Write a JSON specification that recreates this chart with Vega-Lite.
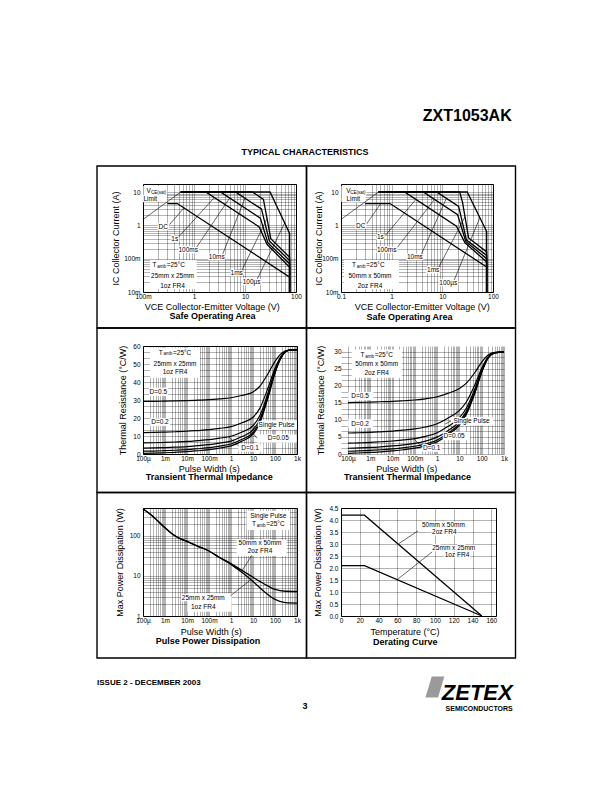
{
"$schema": "https://vega.github.io/schema/vega-lite/v6.json",
"autosize": {"type": "none"},
"padding": {"left": 143, "top": 184, "right": 469, "bottom": 608},
"background": "white",
"config": {
  "font": "Liberation Sans",
  "view": {"stroke": "#000", "strokeWidth": 1},
  "axis": {"labelFont": "Liberation Sans", "labelFontSize": 6.5, "labelColor": "#000", "labelOverlap": false, "labelFlush": false, "titleFont": "Liberation Sans", "titleFontSize": 9, "titleFontWeight": "normal", "titleColor": "#000", "domain": false, "ticks": false, "tickSize": 0, "gridColor": "#000", "gridOpacity": 0.6, "gridWidth": 0.5},
  "axisX": {"labelPadding": 1},
  "axisY": {"labelPadding": 3},
  "text": {"font": "Liberation Sans", "color": "#000"},
  "line": {"color": "#000"},
  "rule": {"color": "#000"}
},
"datasets": {
  "header": [{"role": "part number", "text": "ZXT1053AK"}, {"role": "section", "text": "TYPICAL CHARACTERISTICS"}],
  "footer": [{"role": "issue", "text": "ISSUE 2 - DECEMBER 2003"}, {"role": "page", "text": "3"}, {"role": "logo mark", "text": ""}, {"role": "logo", "text": "ZETEX"}, {"role": "tagline", "text": "SEMICONDUCTORS"}],
  "p1_curves": [
    {"curve": "DC", "n": 1, "vce": 0.3, "ic": 4.5}, {"curve": "DC", "n": 2, "vce": 0.47, "ic": 4.5}, {"curve": "DC", "n": 3, "vce": 75, "ic": 0.028}, {"curve": "DC", "n": 4, "vce": 75, "ic": 0.01},
    {"curve": "1s", "n": 1, "vce": 0.55, "ic": 10}, {"curve": "1s", "n": 2, "vce": 1.7, "ic": 10}, {"curve": "1s", "n": 3, "vce": 19, "ic": 0.9}, {"curve": "1s", "n": 4, "vce": 27, "ic": 0.27}, {"curve": "1s", "n": 5, "vce": 75, "ic": 0.055}, {"curve": "1s", "n": 6, "vce": 75, "ic": 0.01},
    {"curve": "100ms", "n": 1, "vce": 0.55, "ic": 10}, {"curve": "100ms", "n": 2, "vce": 3.3, "ic": 10}, {"curve": "100ms", "n": 3, "vce": 20, "ic": 1.65}, {"curve": "100ms", "n": 4, "vce": 28, "ic": 0.3}, {"curve": "100ms", "n": 5, "vce": 75, "ic": 0.07}, {"curve": "100ms", "n": 6, "vce": 75, "ic": 0.01},
    {"curve": "10ms", "n": 1, "vce": 0.55, "ic": 10}, {"curve": "10ms", "n": 2, "vce": 6.5, "ic": 10}, {"curve": "10ms", "n": 3, "vce": 21, "ic": 3.1}, {"curve": "10ms", "n": 4, "vce": 30, "ic": 0.34}, {"curve": "10ms", "n": 5, "vce": 75, "ic": 0.088}, {"curve": "10ms", "n": 6, "vce": 75, "ic": 0.01},
    {"curve": "1ms", "n": 1, "vce": 0.55, "ic": 10}, {"curve": "1ms", "n": 2, "vce": 14, "ic": 10}, {"curve": "1ms", "n": 3, "vce": 23, "ic": 6}, {"curve": "1ms", "n": 4, "vce": 32, "ic": 0.4}, {"curve": "1ms", "n": 5, "vce": 75, "ic": 0.11}, {"curve": "1ms", "n": 6, "vce": 75, "ic": 0.01},
    {"curve": "100µs", "n": 1, "vce": 0.55, "ic": 10}, {"curve": "100µs", "n": 2, "vce": 31, "ic": 10}, {"curve": "100µs", "n": 3, "vce": 75, "ic": 0.57}, {"curve": "100µs", "n": 4, "vce": 75, "ic": 0.01},
    {"curve": "VCE(sat) limit", "n": 1, "vce": 0.1, "ic": 1.5}, {"curve": "VCE(sat) limit", "n": 2, "vce": 0.55, "ic": 10}
  ],
  "p1_leaders": [
    {"curve": "DC", "vce": 0.33, "ic": 1.05, "vce2": 0.65, "ic2": 3.46},
    {"curve": "1s", "vce": 0.5, "ic": 0.45, "vce2": 2.5, "ic2": 6.8},
    {"curve": "100ms", "vce": 1.1, "ic": 0.21, "vce2": 5, "ic2": 6.6},
    {"curve": "10ms", "vce": 3.6, "ic": 0.13, "vce2": 10, "ic2": 6.5},
    {"curve": "1ms", "vce": 8.5, "ic": 0.042, "vce2": 27, "ic2": 1.6},
    {"curve": "100µs", "vce": 17, "ic": 0.023, "vce2": 60, "ic2": 1.18}
  ],
  "p1_boxes": [
    {"note": "VCE(sat) limit", "vce": 0.1014, "vce2": 0.2955, "ic": 5.0, "ic2": 15.1},
    {"note": "conditions", "vce": 0.137, "vce2": 1.13, "ic": 0.0122, "ic2": 0.0908}
  ],
  "p1_labels": [
    {"label": "V", "kind": "main", "vce": 0.1294, "ic": 10.94},
    {"label": "CE(sat)", "kind": "sub", "vce": 0.2014, "ic": 9.66},
    {"label": "Limit", "kind": "main", "vce": 0.139, "ic": 6.38},
    {"label": "DC", "kind": "main", "vce": 0.25, "ic": 0.91},
    {"label": "1s", "kind": "main", "vce": 0.42, "ic": 0.38},
    {"label": "100ms", "kind": "main", "vce": 0.77, "ic": 0.18},
    {"label": "10ms", "kind": "main", "vce": 2.79, "ic": 0.114},
    {"label": "1ms", "kind": "main", "vce": 6.87, "ic": 0.036},
    {"label": "100µs", "kind": "main", "vce": 13.5, "ic": 0.0194},
    {"label": "T", "kind": "main", "vce": 0.1677, "ic": 0.0629},
    {"label": "amb", "kind": "sub", "vce": 0.2316, "ic": 0.0567},
    {"label": "=25°C", "kind": "main", "vce": 0.4406, "ic": 0.0629},
    {"label": "25mm x 25mm", "kind": "main", "vce": 0.379, "ic": 0.0294},
    {"label": "1oz FR4", "kind": "main", "vce": 0.379, "ic": 0.01473}
  ],
  "p2_curves": [
    {"curve": "DC", "n": 1, "vce": 0.3, "ic": 4.5}, {"curve": "DC", "n": 2, "vce": 0.93, "ic": 4.5}, {"curve": "DC", "n": 3, "vce": 75, "ic": 0.056}, {"curve": "DC", "n": 4, "vce": 75, "ic": 0.01},
    {"curve": "1s", "n": 1, "vce": 0.55, "ic": 10}, {"curve": "1s", "n": 2, "vce": 1.8, "ic": 10}, {"curve": "1s", "n": 3, "vce": 19, "ic": 0.95}, {"curve": "1s", "n": 4, "vce": 28, "ic": 0.3}, {"curve": "1s", "n": 5, "vce": 75, "ic": 0.08}, {"curve": "1s", "n": 6, "vce": 75, "ic": 0.01},
    {"curve": "100ms", "n": 1, "vce": 0.55, "ic": 10}, {"curve": "100ms", "n": 2, "vce": 4.2, "ic": 10}, {"curve": "100ms", "n": 3, "vce": 20, "ic": 2.1}, {"curve": "100ms", "n": 4, "vce": 29, "ic": 0.33}, {"curve": "100ms", "n": 5, "vce": 75, "ic": 0.1}, {"curve": "100ms", "n": 6, "vce": 75, "ic": 0.01},
    {"curve": "10ms", "n": 1, "vce": 0.55, "ic": 10}, {"curve": "10ms", "n": 2, "vce": 7.7, "ic": 10}, {"curve": "10ms", "n": 3, "vce": 21, "ic": 3.7}, {"curve": "10ms", "n": 4, "vce": 30, "ic": 0.36}, {"curve": "10ms", "n": 5, "vce": 75, "ic": 0.125}, {"curve": "10ms", "n": 6, "vce": 75, "ic": 0.01},
    {"curve": "1ms", "n": 1, "vce": 0.55, "ic": 10}, {"curve": "1ms", "n": 2, "vce": 22, "ic": 10}, {"curve": "1ms", "n": 3, "vce": 25, "ic": 5}, {"curve": "1ms", "n": 4, "vce": 33, "ic": 0.42}, {"curve": "1ms", "n": 5, "vce": 75, "ic": 0.16}, {"curve": "1ms", "n": 6, "vce": 75, "ic": 0.01},
    {"curve": "100µs", "n": 1, "vce": 0.55, "ic": 10}, {"curve": "100µs", "n": 2, "vce": 31, "ic": 10}, {"curve": "100µs", "n": 3, "vce": 75, "ic": 0.65}, {"curve": "100µs", "n": 4, "vce": 75, "ic": 0.01},
    {"curve": "VCE(sat) limit", "n": 1, "vce": 0.1, "ic": 1.5}, {"curve": "VCE(sat) limit", "n": 2, "vce": 0.55, "ic": 10}
  ],
  "p2_leaders": [
    {"curve": "DC", "vce": 0.32, "ic": 1.1, "vce2": 0.6, "ic2": 4.4},
    {"curve": "1s", "vce": 0.75, "ic": 0.5, "vce2": 3, "ic2": 6},
    {"curve": "100ms", "vce": 1.3, "ic": 0.22, "vce2": 7, "ic2": 6},
    {"curve": "10ms", "vce": 3.8, "ic": 0.13, "vce2": 12, "ic2": 6.4},
    {"curve": "1ms", "vce": 8.5, "ic": 0.055, "vce2": 28, "ic2": 1.8},
    {"curve": "100µs", "vce": 17, "ic": 0.022, "vce2": 55, "ic2": 1.7}
  ],
  "p2_boxes": [
    {"note": "VCE(sat) limit", "vce": 0.1015, "vce2": 0.311, "ic": 5.0, "ic2": 15.1},
    {"note": "conditions", "vce": 0.1146, "vce2": 1.393, "ic": 0.0122, "ic2": 0.0908}
  ],
  "p2_labels": [
    {"label": "V", "kind": "main", "vce": 0.1406, "ic": 10.7},
    {"label": "CE(sat)", "kind": "sub", "vce": 0.2164, "ic": 9.33},
    {"label": "Limit", "kind": "main", "vce": 0.1748, "ic": 6.29},
    {"label": "DC", "kind": "main", "vce": 0.245, "ic": 0.93},
    {"label": "1s", "kind": "main", "vce": 0.6, "ic": 0.44},
    {"label": "100ms", "kind": "main", "vce": 0.8, "ic": 0.185},
    {"label": "10ms", "kind": "main", "vce": 2.87, "ic": 0.114},
    {"label": "1ms", "kind": "main", "vce": 6.6, "ic": 0.046},
    {"label": "100µs", "kind": "main", "vce": 13.1, "ic": 0.019},
    {"label": "T", "kind": "main", "vce": 0.1809, "ic": 0.0629},
    {"label": "amb", "kind": "sub", "vce": 0.2503, "ic": 0.0567},
    {"label": "=25°C", "kind": "main", "vce": 0.478, "ic": 0.0629},
    {"label": "50mm x 50mm", "kind": "main", "vce": 0.373, "ic": 0.0294},
    {"label": "2oz FR4", "kind": "main", "vce": 0.373, "ic": 0.01473}
  ],
  "p3_curves": [
    {"curve": "Single Pulse", "t": 0.0001, "zth": 0.4}, {"curve": "Single Pulse", "t": 0.0003, "zth": 0.5}, {"curve": "Single Pulse", "t": 0.001, "zth": 0.7}, {"curve": "Single Pulse", "t": 0.003, "zth": 0.95}, {"curve": "Single Pulse", "t": 0.01, "zth": 1.3}, {"curve": "Single Pulse", "t": 0.03, "zth": 1.8}, {"curve": "Single Pulse", "t": 0.1, "zth": 2.4}, {"curve": "Single Pulse", "t": 0.3, "zth": 3.3}, {"curve": "Single Pulse", "t": 1, "zth": 4.5}, {"curve": "Single Pulse", "t": 3, "zth": 7}, {"curve": "Single Pulse", "t": 10, "zth": 11}, {"curve": "Single Pulse", "t": 20, "zth": 17}, {"curve": "Single Pulse", "t": 50, "zth": 32}, {"curve": "Single Pulse", "t": 100, "zth": 45}, {"curve": "Single Pulse", "t": 200, "zth": 54}, {"curve": "Single Pulse", "t": 400, "zth": 57.5}, {"curve": "Single Pulse", "t": 1000, "zth": 58},
    {"curve": "D=0.02", "t": 0.0001, "zth": 1.55}, {"curve": "D=0.02", "t": 0.0003, "zth": 1.65}, {"curve": "D=0.02", "t": 0.001, "zth": 1.85}, {"curve": "D=0.02", "t": 0.003, "zth": 2.09}, {"curve": "D=0.02", "t": 0.01, "zth": 2.43}, {"curve": "D=0.02", "t": 0.03, "zth": 2.92}, {"curve": "D=0.02", "t": 0.1, "zth": 3.51}, {"curve": "D=0.02", "t": 0.3, "zth": 4.39}, {"curve": "D=0.02", "t": 1, "zth": 5.57}, {"curve": "D=0.02", "t": 3, "zth": 8.02}, {"curve": "D=0.02", "t": 10, "zth": 11.94}, {"curve": "D=0.02", "t": 20, "zth": 17.82}, {"curve": "D=0.02", "t": 50, "zth": 32.52}, {"curve": "D=0.02", "t": 100, "zth": 45.26}, {"curve": "D=0.02", "t": 200, "zth": 54.08}, {"curve": "D=0.02", "t": 400, "zth": 57.51}, {"curve": "D=0.02", "t": 1000, "zth": 58},
    {"curve": "D=0.05", "t": 0.0001, "zth": 3.28}, {"curve": "D=0.05", "t": 0.0003, "zth": 3.38}, {"curve": "D=0.05", "t": 0.001, "zth": 3.57}, {"curve": "D=0.05", "t": 0.003, "zth": 3.8}, {"curve": "D=0.05", "t": 0.01, "zth": 4.14}, {"curve": "D=0.05", "t": 0.03, "zth": 4.61}, {"curve": "D=0.05", "t": 0.1, "zth": 5.18}, {"curve": "D=0.05", "t": 0.3, "zth": 6.04}, {"curve": "D=0.05", "t": 1, "zth": 7.18}, {"curve": "D=0.05", "t": 3, "zth": 9.55}, {"curve": "D=0.05", "t": 10, "zth": 13.35}, {"curve": "D=0.05", "t": 20, "zth": 19.05}, {"curve": "D=0.05", "t": 50, "zth": 33.3}, {"curve": "D=0.05", "t": 100, "zth": 45.65}, {"curve": "D=0.05", "t": 200, "zth": 54.2}, {"curve": "D=0.05", "t": 400, "zth": 57.5}, {"curve": "D=0.05", "t": 1000, "zth": 58},
    {"curve": "D=0.1", "t": 0.0001, "zth": 6.16}, {"curve": "D=0.1", "t": 0.0003, "zth": 6.25}, {"curve": "D=0.1", "t": 0.001, "zth": 6.43}, {"curve": "D=0.1", "t": 0.003, "zth": 6.66}, {"curve": "D=0.1", "t": 0.01, "zth": 6.97}, {"curve": "D=0.1", "t": 0.03, "zth": 7.42}, {"curve": "D=0.1", "t": 0.1, "zth": 7.96}, {"curve": "D=0.1", "t": 0.3, "zth": 8.77}, {"curve": "D=0.1", "t": 1, "zth": 9.85}, {"curve": "D=0.1", "t": 3, "zth": 12.1}, {"curve": "D=0.1", "t": 10, "zth": 15.7}, {"curve": "D=0.1", "t": 20, "zth": 21.1}, {"curve": "D=0.1", "t": 50, "zth": 34.6}, {"curve": "D=0.1", "t": 100, "zth": 46.3}, {"curve": "D=0.1", "t": 200, "zth": 54.4}, {"curve": "D=0.1", "t": 400, "zth": 57.55}, {"curve": "D=0.1", "t": 1000, "zth": 58},
    {"curve": "D=0.2", "t": 0.0001, "zth": 11.92}, {"curve": "D=0.2", "t": 0.0003, "zth": 12.0}, {"curve": "D=0.2", "t": 0.001, "zth": 12.16}, {"curve": "D=0.2", "t": 0.003, "zth": 12.36}, {"curve": "D=0.2", "t": 0.01, "zth": 12.64}, {"curve": "D=0.2", "t": 0.03, "zth": 13.04}, {"curve": "D=0.2", "t": 0.1, "zth": 13.52}, {"curve": "D=0.2", "t": 0.3, "zth": 14.24}, {"curve": "D=0.2", "t": 1, "zth": 15.2}, {"curve": "D=0.2", "t": 3, "zth": 17.2}, {"curve": "D=0.2", "t": 10, "zth": 20.4}, {"curve": "D=0.2", "t": 20, "zth": 25.2}, {"curve": "D=0.2", "t": 50, "zth": 37.2}, {"curve": "D=0.2", "t": 100, "zth": 47.6}, {"curve": "D=0.2", "t": 200, "zth": 54.8}, {"curve": "D=0.2", "t": 400, "zth": 57.6}, {"curve": "D=0.2", "t": 1000, "zth": 58},
    {"curve": "D=0.5", "t": 0.0001, "zth": 29.2}, {"curve": "D=0.5", "t": 0.0003, "zth": 29.25}, {"curve": "D=0.5", "t": 0.001, "zth": 29.35}, {"curve": "D=0.5", "t": 0.003, "zth": 29.48}, {"curve": "D=0.5", "t": 0.01, "zth": 29.65}, {"curve": "D=0.5", "t": 0.03, "zth": 29.9}, {"curve": "D=0.5", "t": 0.1, "zth": 30.2}, {"curve": "D=0.5", "t": 0.3, "zth": 30.65}, {"curve": "D=0.5", "t": 1, "zth": 31.25}, {"curve": "D=0.5", "t": 3, "zth": 32.5}, {"curve": "D=0.5", "t": 10, "zth": 34.5}, {"curve": "D=0.5", "t": 20, "zth": 37.5}, {"curve": "D=0.5", "t": 50, "zth": 45}, {"curve": "D=0.5", "t": 100, "zth": 51.5}, {"curve": "D=0.5", "t": 200, "zth": 56}, {"curve": "D=0.5", "t": 400, "zth": 57.75}, {"curve": "D=0.5", "t": 1000, "zth": 58}
  ],
  "p3_boxes": [
    {"note": "conditions", "t": 0.000208, "t2": 0.039, "zth": 42.4, "zth2": 59},
    {"note": "D=0.5", "t": 0.000208, "t2": 0.00141, "zth": 32.2, "zth2": 36.8},
    {"note": "D=0.2", "t": 0.000208, "t2": 0.00168, "zth": 15.6, "zth2": 19.8},
    {"note": "Single Pulse", "t": 12.3, "t2": 990, "zth": 13.5, "zth2": 18.7},
    {"note": "D=0.05", "t": 14.7, "t2": 968, "zth": 6.3, "zth2": 10.9},
    {"note": "D=0.1", "t": 2.13, "t2": 29.4, "zth": 1.3, "zth2": 5.4}
  ],
  "p3_leaders": [
    {"curve": "Single Pulse", "t": 12, "zth": 15.5, "t2": 6, "zth2": 9},
    {"curve": "D=0.05", "t": 15, "zth": 8.8, "t2": 8.5, "zth2": 12.6},
    {"curve": "D=0.1", "t": 2.2, "zth": 4.5, "t2": 0.8, "zth2": 9.4}
  ],
  "p3_labels": [
    {"label": "T", "kind": "main", "t": 0.000641, "zth": 56.3},
    {"label": "amb", "kind": "sub", "t": 0.001355, "zth": 55.4},
    {"label": "=25°C", "kind": "main", "t": 0.00602, "zth": 56.3},
    {"label": "25mm x 25mm", "kind": "main", "t": 0.00285, "zth": 50.2},
    {"label": "1oz FR4", "kind": "main", "t": 0.00285, "zth": 45.6},
    {"label": "D=0.5", "kind": "main", "t": 0.000496, "zth": 34.4},
    {"label": "D=0.2", "kind": "main", "t": 0.00059, "zth": 17.8},
    {"label": "Single Pulse", "kind": "main", "t": 119, "zth": 16.1},
    {"label": "D=0.05", "kind": "main", "t": 141, "zth": 8.7},
    {"label": "D=0.1", "kind": "main", "t": 7.3, "zth": 3.2}
  ],
  "p4_curves": [
    {"curve": "Single Pulse", "t": 0.0001, "zth": 0.2}, {"curve": "Single Pulse", "t": 0.0003, "zth": 0.3}, {"curve": "Single Pulse", "t": 0.001, "zth": 0.45}, {"curve": "Single Pulse", "t": 0.003, "zth": 0.65}, {"curve": "Single Pulse", "t": 0.01, "zth": 0.9}, {"curve": "Single Pulse", "t": 0.03, "zth": 1.25}, {"curve": "Single Pulse", "t": 0.1, "zth": 1.7}, {"curve": "Single Pulse", "t": 0.3, "zth": 2.4}, {"curve": "Single Pulse", "t": 1, "zth": 3.6}, {"curve": "Single Pulse", "t": 3, "zth": 5.6}, {"curve": "Single Pulse", "t": 10, "zth": 8.5}, {"curve": "Single Pulse", "t": 20, "zth": 11.5}, {"curve": "Single Pulse", "t": 50, "zth": 18}, {"curve": "Single Pulse", "t": 100, "zth": 24}, {"curve": "Single Pulse", "t": 200, "zth": 28.3}, {"curve": "Single Pulse", "t": 400, "zth": 29.7}, {"curve": "Single Pulse", "t": 1000, "zth": 30},
    {"curve": "D=0.02", "t": 0.0001, "zth": 0.8}, {"curve": "D=0.02", "t": 0.0003, "zth": 0.89}, {"curve": "D=0.02", "t": 0.001, "zth": 1.04}, {"curve": "D=0.02", "t": 0.003, "zth": 1.24}, {"curve": "D=0.02", "t": 0.01, "zth": 1.48}, {"curve": "D=0.02", "t": 0.03, "zth": 1.83}, {"curve": "D=0.02", "t": 0.1, "zth": 2.27}, {"curve": "D=0.02", "t": 0.3, "zth": 2.95}, {"curve": "D=0.02", "t": 1, "zth": 4.13}, {"curve": "D=0.02", "t": 3, "zth": 6.09}, {"curve": "D=0.02", "t": 10, "zth": 8.93}, {"curve": "D=0.02", "t": 20, "zth": 11.87}, {"curve": "D=0.02", "t": 50, "zth": 18.24}, {"curve": "D=0.02", "t": 100, "zth": 24.12}, {"curve": "D=0.02", "t": 200, "zth": 28.33}, {"curve": "D=0.02", "t": 400, "zth": 29.71}, {"curve": "D=0.02", "t": 1000, "zth": 30},
    {"curve": "D=0.05", "t": 0.0001, "zth": 1.69}, {"curve": "D=0.05", "t": 0.0003, "zth": 1.79}, {"curve": "D=0.05", "t": 0.001, "zth": 1.93}, {"curve": "D=0.05", "t": 0.003, "zth": 2.12}, {"curve": "D=0.05", "t": 0.01, "zth": 2.36}, {"curve": "D=0.05", "t": 0.03, "zth": 2.69}, {"curve": "D=0.05", "t": 0.1, "zth": 3.12}, {"curve": "D=0.05", "t": 0.3, "zth": 3.78}, {"curve": "D=0.05", "t": 1, "zth": 4.92}, {"curve": "D=0.05", "t": 3, "zth": 6.82}, {"curve": "D=0.05", "t": 10, "zth": 9.58}, {"curve": "D=0.05", "t": 20, "zth": 12.43}, {"curve": "D=0.05", "t": 50, "zth": 18.6}, {"curve": "D=0.05", "t": 100, "zth": 24.3}, {"curve": "D=0.05", "t": 200, "zth": 28.39}, {"curve": "D=0.05", "t": 400, "zth": 29.72}, {"curve": "D=0.05", "t": 1000, "zth": 30},
    {"curve": "D=0.1", "t": 0.0001, "zth": 3.18}, {"curve": "D=0.1", "t": 0.0003, "zth": 3.27}, {"curve": "D=0.1", "t": 0.001, "zth": 3.41}, {"curve": "D=0.1", "t": 0.003, "zth": 3.59}, {"curve": "D=0.1", "t": 0.01, "zth": 3.81}, {"curve": "D=0.1", "t": 0.03, "zth": 4.13}, {"curve": "D=0.1", "t": 0.1, "zth": 4.53}, {"curve": "D=0.1", "t": 0.3, "zth": 5.16}, {"curve": "D=0.1", "t": 1, "zth": 6.24}, {"curve": "D=0.1", "t": 3, "zth": 8.04}, {"curve": "D=0.1", "t": 10, "zth": 10.65}, {"curve": "D=0.1", "t": 20, "zth": 13.35}, {"curve": "D=0.1", "t": 50, "zth": 19.2}, {"curve": "D=0.1", "t": 100, "zth": 24.6}, {"curve": "D=0.1", "t": 200, "zth": 28.47}, {"curve": "D=0.1", "t": 400, "zth": 29.73}, {"curve": "D=0.1", "t": 1000, "zth": 30},
    {"curve": "D=0.2", "t": 0.0001, "zth": 6.16}, {"curve": "D=0.2", "t": 0.0003, "zth": 6.24}, {"curve": "D=0.2", "t": 0.001, "zth": 6.36}, {"curve": "D=0.2", "t": 0.003, "zth": 6.52}, {"curve": "D=0.2", "t": 0.01, "zth": 6.72}, {"curve": "D=0.2", "t": 0.03, "zth": 7.0}, {"curve": "D=0.2", "t": 0.1, "zth": 7.36}, {"curve": "D=0.2", "t": 0.3, "zth": 7.92}, {"curve": "D=0.2", "t": 1, "zth": 8.88}, {"curve": "D=0.2", "t": 3, "zth": 10.48}, {"curve": "D=0.2", "t": 10, "zth": 12.8}, {"curve": "D=0.2", "t": 20, "zth": 15.2}, {"curve": "D=0.2", "t": 50, "zth": 20.4}, {"curve": "D=0.2", "t": 100, "zth": 25.2}, {"curve": "D=0.2", "t": 200, "zth": 28.64}, {"curve": "D=0.2", "t": 400, "zth": 29.76}, {"curve": "D=0.2", "t": 1000, "zth": 30},
    {"curve": "D=0.5", "t": 0.0001, "zth": 15.1}, {"curve": "D=0.5", "t": 0.0003, "zth": 15.15}, {"curve": "D=0.5", "t": 0.001, "zth": 15.23}, {"curve": "D=0.5", "t": 0.003, "zth": 15.33}, {"curve": "D=0.5", "t": 0.01, "zth": 15.45}, {"curve": "D=0.5", "t": 0.03, "zth": 15.63}, {"curve": "D=0.5", "t": 0.1, "zth": 15.85}, {"curve": "D=0.5", "t": 0.3, "zth": 16.2}, {"curve": "D=0.5", "t": 1, "zth": 16.8}, {"curve": "D=0.5", "t": 3, "zth": 17.8}, {"curve": "D=0.5", "t": 10, "zth": 19.25}, {"curve": "D=0.5", "t": 20, "zth": 20.75}, {"curve": "D=0.5", "t": 50, "zth": 24}, {"curve": "D=0.5", "t": 100, "zth": 27}, {"curve": "D=0.5", "t": 200, "zth": 29.15}, {"curve": "D=0.5", "t": 400, "zth": 29.85}, {"curve": "D=0.5", "t": 1000, "zth": 30}
  ],
  "p4_boxes": [
    {"note": "conditions", "t": 0.000146, "t2": 0.0257, "zth": 22.4, "zth2": 30.7},
    {"note": "D=0.5", "t": 0.000102, "t2": 0.00136, "zth": 15.8, "zth2": 18.2},
    {"note": "D=0.2", "t": 0.000102, "t2": 0.00136, "zth": 7.7, "zth2": 10.2},
    {"note": "Single Pulse", "t": 4.16, "t2": 328, "zth": 8.4, "zth2": 10.85},
    {"note": "D=0.05", "t": 1.12, "t2": 29.6, "zth": 4.0, "zth2": 6.5},
    {"note": "D=0.1", "t": 0.2, "t2": 1.59, "zth": 0.67, "zth2": 2.85}
  ],
  "p4_leaders": [
    {"curve": "Single Pulse", "t": 4.2, "zth": 9.7, "t2": 2.3, "zth2": 8.8},
    {"curve": "D=0.05", "t": 1.1, "zth": 5.2, "t2": 0.5, "zth2": 4.3},
    {"curve": "D=0.1", "t": 0.2, "zth": 2.1, "t2": 0.09, "zth2": 4.5}
  ],
  "p4_labels": [
    {"label": "T", "kind": "main", "t": 0.000445, "zth": 29.0},
    {"label": "amb", "kind": "sub", "t": 0.00093, "zth": 28.6},
    {"label": "=25°C", "kind": "main", "t": 0.00406, "zth": 29.0},
    {"label": "50mm x 50mm", "kind": "main", "t": 0.00194, "zth": 26.3},
    {"label": "2oz FR4", "kind": "main", "t": 0.00194, "zth": 23.8},
    {"label": "D=0.5", "kind": "main", "t": 0.000345, "zth": 17.0},
    {"label": "D=0.2", "kind": "main", "t": 0.000345, "zth": 8.9},
    {"label": "Single Pulse", "kind": "main", "t": 35, "zth": 9.7},
    {"label": "D=0.05", "kind": "main", "t": 5.8, "zth": 5.3},
    {"label": "D=0.1", "kind": "main", "t": 0.57, "zth": 1.67}
  ],
  "p5_curves": [
    {"board": "25mm x 25mm 1oz FR4", "t": 0.0001, "pd": 470}, {"board": "25mm x 25mm 1oz FR4", "t": 0.0002, "pd": 360}, {"board": "25mm x 25mm 1oz FR4", "t": 0.0005, "pd": 230}, {"board": "25mm x 25mm 1oz FR4", "t": 0.001, "pd": 160}, {"board": "25mm x 25mm 1oz FR4", "t": 0.002, "pd": 115}, {"board": "25mm x 25mm 1oz FR4", "t": 0.004, "pd": 90}, {"board": "25mm x 25mm 1oz FR4", "t": 0.01, "pd": 73}, {"board": "25mm x 25mm 1oz FR4", "t": 0.03, "pd": 56}, {"board": "25mm x 25mm 1oz FR4", "t": 0.1, "pd": 42}, {"board": "25mm x 25mm 1oz FR4", "t": 0.3, "pd": 29}, {"board": "25mm x 25mm 1oz FR4", "t": 1, "pd": 19.5}, {"board": "25mm x 25mm 1oz FR4", "t": 3, "pd": 12.5}, {"board": "25mm x 25mm 1oz FR4", "t": 10, "pd": 7.3}, {"board": "25mm x 25mm 1oz FR4", "t": 30, "pd": 4.2}, {"board": "25mm x 25mm 1oz FR4", "t": 100, "pd": 2.6}, {"board": "25mm x 25mm 1oz FR4", "t": 300, "pd": 2.15}, {"board": "25mm x 25mm 1oz FR4", "t": 1000, "pd": 2.1},
    {"board": "50mm x 50mm 2oz FR4", "t": 0.0001, "pd": 470}, {"board": "50mm x 50mm 2oz FR4", "t": 0.0002, "pd": 360}, {"board": "50mm x 50mm 2oz FR4", "t": 0.0005, "pd": 230}, {"board": "50mm x 50mm 2oz FR4", "t": 0.001, "pd": 160}, {"board": "50mm x 50mm 2oz FR4", "t": 0.002, "pd": 115}, {"board": "50mm x 50mm 2oz FR4", "t": 0.004, "pd": 90}, {"board": "50mm x 50mm 2oz FR4", "t": 0.01, "pd": 73}, {"board": "50mm x 50mm 2oz FR4", "t": 0.03, "pd": 56}, {"board": "50mm x 50mm 2oz FR4", "t": 0.1, "pd": 42}, {"board": "50mm x 50mm 2oz FR4", "t": 0.3, "pd": 29}, {"board": "50mm x 50mm 2oz FR4", "t": 1, "pd": 20.5}, {"board": "50mm x 50mm 2oz FR4", "t": 3, "pd": 14}, {"board": "50mm x 50mm 2oz FR4", "t": 10, "pd": 9.3}, {"board": "50mm x 50mm 2oz FR4", "t": 30, "pd": 6.5}, {"board": "50mm x 50mm 2oz FR4", "t": 100, "pd": 4.6}, {"board": "50mm x 50mm 2oz FR4", "t": 300, "pd": 4.15}, {"board": "50mm x 50mm 2oz FR4", "t": 1000, "pd": 4.1}
  ],
  "p5_boxes": [
    {"note": "conditions", "t": 5.1, "t2": 477, "pd": 141, "pd2": 427},
    {"note": "50mm x 50mm", "t": 1.8, "t2": 340, "pd": 31.6, "pd2": 79},
    {"note": "25mm x 25mm", "t": 0.0103, "t2": 1.07, "pd": 1.28, "pd2": 3.7}
  ],
  "p5_leaders": [
    {"board": "50mm x 50mm 2oz FR4", "t": 8.8, "pd": 33, "t2": 3.2, "pd2": 13.7},
    {"board": "25mm x 25mm 1oz FR4", "t": 0.95, "pd": 3.2, "t2": 8, "pd2": 8.1}
  ],
  "p5_labels": [
    {"label": "Single Pulse", "kind": "main", "t": 49.6, "pd": 316},
    {"label": "T", "kind": "main", "t": 11.2, "pd": 196},
    {"label": "amb", "kind": "sub", "t": 23.6, "pd": 180},
    {"label": "=25°C", "kind": "main", "t": 104.8, "pd": 196},
    {"label": "50mm x 50mm", "kind": "main", "t": 20.8, "pd": 65.7},
    {"label": "2oz FR4", "kind": "main", "t": 20.8, "pd": 42.2},
    {"label": "25mm x 25mm", "kind": "main", "t": 0.055, "pd": 2.77},
    {"label": "1oz FR4", "kind": "main", "t": 0.055, "pd": 1.65}
  ],
  "p6_curves": [
    {"board": "50mm x 50mm 2oz FR4", "temp": 0, "pd": 4.2}, {"board": "50mm x 50mm 2oz FR4", "temp": 25, "pd": 4.2}, {"board": "50mm x 50mm 2oz FR4", "temp": 150, "pd": 0},
    {"board": "25mm x 25mm 1oz FR4", "temp": 0, "pd": 2.1}, {"board": "25mm x 25mm 1oz FR4", "temp": 25, "pd": 2.1}, {"board": "25mm x 25mm 1oz FR4", "temp": 150, "pd": 0}
  ],
  "p6_leaders": [
    {"board": "50mm x 50mm 2oz FR4", "temp": 82, "pd": 3.55, "temp2": 61, "pd2": 3.0},
    {"board": "25mm x 25mm 1oz FR4", "temp": 97, "pd": 2.67, "temp2": 60, "pd2": 1.52}
  ],
  "p6_labels": [
    {"label": "50mm x 50mm", "kind": "main", "temp": 109, "pd": 3.81},
    {"label": "2oz FR4", "kind": "main", "temp": 110, "pd": 3.5},
    {"label": "25mm x 25mm", "kind": "main", "temp": 120, "pd": 2.85},
    {"label": "1oz FR4", "kind": "main", "temp": 123.5, "pd": 2.55}
  ]
},
"columns": 2,
"bounds": "flush",
"spacing": {"row": 54, "column": 44},
"concat": [
  {
    "width": 153, "height": 108,
    "resolve": {"scale": {"x": "independent", "y": "independent"}},
    "layer": [
      {"data": {"values": [{"cell": "Safe Operating Area, 25mm x 25mm 1oz FR4"}]},
       "mark": {"type": "rect", "fill": "transparent", "stroke": "#000", "strokeWidth": 1.4},
       "encoding": {
         "x": {"datum": 0, "type": "quantitative", "scale": {"domain": [0.21957, 0.94988], "nice": false, "zero": false},
               "axis": {"orient": "bottom", "labels": false, "grid": false, "title": "Safe Operating Area", "titleFontWeight": "bold", "titleX": 69, "titleY": 23.7, "titleBaseline": "middle"}},
         "x2": {"datum": 1},
         "y": {"datum": 0, "type": "quantitative", "scale": {"domain": [0.22222, 0.88889], "nice": false, "zero": false}, "axis": null},
         "y2": {"datum": 1}}},
      {"data": {"name": "header"},
       "layer": [
         {"transform": [{"filter": "datum.role == 'part number'"}],
          "mark": {"type": "text", "align": "right", "baseline": "alphabetic", "fontSize": 16, "fontWeight": "bold"},
          "encoding": {"text": {"field": "text"},
            "x": {"datum": 1.9795, "type": "quantitative", "scale": {"domain": [0.21957, 0.94988], "nice": false, "zero": false}, "axis": null},
            "y": {"datum": 1.2796, "type": "quantitative", "scale": {"domain": [0.22222, 0.88889], "nice": false, "zero": false}, "axis": null}}},
         {"transform": [{"filter": "datum.role == 'section'"}],
          "mark": {"type": "text", "align": "center", "baseline": "middle", "fontSize": 9, "fontWeight": "bold"},
          "encoding": {"text": {"field": "text"},
            "x": {"datum": 0.9928, "type": "quantitative", "scale": {"domain": [0.21957, 0.94988], "nice": false, "zero": false}, "axis": null},
            "y": {"datum": 1.0846, "type": "quantitative", "scale": {"domain": [0.22222, 0.88889], "nice": false, "zero": false}, "axis": null}}}
       ]},
      {
        "encoding": {
          "x": {"field": "vce", "type": "quantitative", "scale": {"type": "log", "domain": [0.1, 100], "nice": false},
                "axis": {"orient": "bottom", "grid": true, "values": [0.1,0.2,0.3,0.4,0.5,0.6,0.7,0.8,0.9,1,2,3,4,5,6,7,8,9,10,20,30,40,50,60,70,80,90,100],
                         "labelExpr": "datum.value == 0.1 ? '100m' : datum.value == 1 ? '1' : datum.value == 10 ? '10' : datum.value == 100 ? '100' : ''",
                         "title": "VCE Collector-Emitter Voltage (V)", "titleX": 68.7, "titleY": 14, "titleBaseline": "middle"}},
          "y": {"field": "ic", "type": "quantitative", "scale": {"type": "log", "domain": [0.01, 17.4], "nice": false},
                "axis": {"orient": "left", "grid": true, "values": [0.01,0.02,0.03,0.04,0.05,0.06,0.07,0.08,0.09,0.1,0.2,0.3,0.4,0.5,0.6,0.7,0.8,0.9,1,2,3,4,5,6,7,8,9,10],
                         "labelExpr": "datum.value == 0.01 ? '10m' : datum.value == 0.1 ? '100m' : datum.value == 1 ? '1' : datum.value == 10 ? '10' : ''",
                         "title": "IC Collector Current (A)", "titleX": -28, "titleY": 54, "titleBaseline": "middle"}}
        },
        "layer": [
          {"data": {"name": "p1_boxes"}, "mark": {"type": "rect", "fill": "#fff"}, "encoding": {"x2": {"field": "vce2"}, "y2": {"field": "ic2"}}},
          {"data": {"name": "p1_curves"}, "transform": [{"filter": "datum.curve != 'VCE(sat) limit'"}], "mark": {"type": "line", "strokeWidth": 1.3}, "encoding": {"detail": {"field": "curve"}, "order": {"field": "n"}}},
          {"data": {"name": "p1_curves"}, "transform": [{"filter": "datum.curve == 'VCE(sat) limit'"}], "mark": {"type": "line", "strokeWidth": 0.6}, "encoding": {"order": {"field": "n"}}},
          {"data": {"name": "p1_leaders"}, "mark": {"type": "rule", "strokeWidth": 0.6}, "encoding": {"x2": {"field": "vce2"}, "y2": {"field": "ic2"}}},
          {"data": {"name": "p1_labels"}, "mark": {"type": "text", "stroke": "#fff", "strokeWidth": 2.5, "strokeJoin": "round"}, "encoding": {"text": {"field": "label"}, "size": {"field": "kind", "type": "nominal", "scale": {"type": "ordinal", "domain": ["main", "sub"], "range": [6.5, 4.5]}, "legend": null}}},
          {"data": {"name": "p1_labels"}, "mark": {"type": "text"}, "encoding": {"text": {"field": "label"}, "size": {"field": "kind", "type": "nominal", "scale": {"type": "ordinal", "domain": ["main", "sub"], "range": [6.5, 4.5]}, "legend": null}}}
        ]
      }
    ]
  },
  {
    "width": 152, "height": 108,
    "resolve": {"scale": {"x": "independent", "y": "independent"}},
    "layer": [
      {"data": {"values": [{"cell": "Safe Operating Area, 50mm x 50mm 2oz FR4"}]},
       "mark": {"type": "rect", "fill": "transparent", "stroke": "#000", "strokeWidth": 1.4},
       "encoding": {
         "x": {"datum": 0, "type": "quantitative", "scale": {"domain": [0.16507, 0.89234], "nice": false, "zero": false},
               "axis": {"orient": "bottom", "labels": false, "grid": false, "title": "Safe Operating Area", "titleFontWeight": "bold", "titleX": 68, "titleY": 24, "titleBaseline": "middle"}},
         "x2": {"datum": 1},
         "y": {"datum": 0, "type": "quantitative", "scale": {"domain": [0.22222, 0.88889], "nice": false, "zero": false}, "axis": null},
         "y2": {"datum": 1}}},
      {
        "encoding": {
          "x": {"field": "vce", "type": "quantitative", "scale": {"type": "log", "domain": [0.1, 100], "nice": false},
                "axis": {"orient": "bottom", "grid": true, "values": [0.1,0.2,0.3,0.4,0.5,0.6,0.7,0.8,0.9,1,2,3,4,5,6,7,8,9,10,20,30,40,50,60,70,80,90,100],
                         "labelExpr": "datum.value == 0.1 ? '0.1' : datum.value == 1 ? '1' : datum.value == 10 ? '10' : datum.value == 100 ? '100' : ''",
                         "title": "VCE Collector-Emitter Voltage (V)", "titleX": 80.7, "titleY": 14.5, "titleBaseline": "middle"}},
          "y": {"field": "ic", "type": "quantitative", "scale": {"type": "log", "domain": [0.01, 17.4], "nice": false},
                "axis": {"orient": "left", "grid": true, "values": [0.01,0.02,0.03,0.04,0.05,0.06,0.07,0.08,0.09,0.1,0.2,0.3,0.4,0.5,0.6,0.7,0.8,0.9,1,2,3,4,5,6,7,8,9,10],
                         "labelExpr": "datum.value == 0.01 ? '10m' : datum.value == 0.1 ? '100m' : datum.value == 1 ? '1' : datum.value == 10 ? '10' : ''",
                         "title": "IC Collector Current (A)", "titleX": -22.7, "titleY": 54, "titleBaseline": "middle"}}
        },
        "layer": [
          {"data": {"name": "p2_boxes"}, "mark": {"type": "rect", "fill": "#fff"}, "encoding": {"x2": {"field": "vce2"}, "y2": {"field": "ic2"}}},
          {"data": {"name": "p2_curves"}, "transform": [{"filter": "datum.curve != 'VCE(sat) limit'"}], "mark": {"type": "line", "strokeWidth": 1.3}, "encoding": {"detail": {"field": "curve"}, "order": {"field": "n"}}},
          {"data": {"name": "p2_curves"}, "transform": [{"filter": "datum.curve == 'VCE(sat) limit'"}], "mark": {"type": "line", "strokeWidth": 0.6}, "encoding": {"order": {"field": "n"}}},
          {"data": {"name": "p2_leaders"}, "mark": {"type": "rule", "strokeWidth": 0.6}, "encoding": {"x2": {"field": "vce2"}, "y2": {"field": "ic2"}}},
          {"data": {"name": "p2_labels"}, "mark": {"type": "text", "stroke": "#fff", "strokeWidth": 2.5, "strokeJoin": "round"}, "encoding": {"text": {"field": "label"}, "size": {"field": "kind", "type": "nominal", "scale": {"type": "ordinal", "domain": ["main", "sub"], "range": [6.5, 4.5]}, "legend": null}}},
          {"data": {"name": "p2_labels"}, "mark": {"type": "text"}, "encoding": {"text": {"field": "label"}, "size": {"field": "kind", "type": "nominal", "scale": {"type": "ordinal", "domain": ["main", "sub"], "range": [6.5, 4.5]}, "legend": null}}}
        ]
      }
    ]
  },
  {
    "width": 154, "height": 108,
    "resolve": {"scale": {"x": "independent", "y": "independent"}},
    "layer": [
      {"data": {"values": [{"cell": "Transient Thermal Impedance, 25mm x 25mm 1oz FR4"}]},
       "mark": {"type": "rect", "fill": "transparent", "stroke": "#000", "strokeWidth": 1.4},
       "encoding": {
         "x": {"datum": 0, "type": "quantitative", "scale": {"domain": [0.21957, 0.95465], "nice": false, "zero": false},
               "axis": {"orient": "bottom", "labels": false, "grid": false, "title": "Transient Thermal Impedance", "titleFontWeight": "bold", "titleX": 65.8, "titleY": 22.7, "titleBaseline": "middle"}},
         "x2": {"datum": 1},
         "y": {"datum": 0, "type": "quantitative", "scale": {"domain": [0.23404, 0.89057], "nice": false, "zero": false}, "axis": null},
         "y2": {"datum": 1}}},
      {
        "encoding": {
          "x": {"field": "t", "type": "quantitative", "scale": {"type": "log", "domain": [0.0001, 1000], "nice": false},
                "axis": {"orient": "bottom", "grid": true, "values": [0.0001,0.0002,0.0003,0.0004,0.0005,0.0006,0.0007,0.0008,0.0009,0.001,0.002,0.003,0.004,0.005,0.006,0.007,0.008,0.009,0.01,0.02,0.03,0.04,0.05,0.06,0.07,0.08,0.09,0.1,0.2,0.3,0.4,0.5,0.6,0.7,0.8,0.9,1,2,3,4,5,6,7,8,9,10,20,30,40,50,60,70,80,90,100,200,300,400,500,600,700,800,900,1000],
                         "labelExpr": "datum.value == 0.0001 ? '100µ' : datum.value == 0.001 ? '1m' : datum.value == 0.01 ? '10m' : datum.value == 0.1 ? '100m' : datum.value == 1 ? '1' : datum.value == 10 ? '10' : datum.value == 100 ? '100' : datum.value == 1000 ? '1k' : ''",
                         "title": "Pulse Width (s)", "titleX": 65.8, "titleY": 14.3, "titleBaseline": "middle"}},
          "y": {"field": "zth", "type": "quantitative", "scale": {"domain": [0, 60], "nice": false, "zero": false},
                "axis": {"orient": "left", "grid": true, "values": [0,3.3333,6.6667,10,13.3333,16.6667,20,23.3333,26.6667,30,33.3333,36.6667,40,43.3333,46.6667,50,53.3333,56.6667,60],
                         "labelExpr": "datum.value % 10 == 0 ? '' + datum.value : ''",
                         "title": "Thermal Resistance (°C/W)", "titleX": -20.3, "titleY": 54, "titleBaseline": "middle"}}
        },
        "layer": [
          {"data": {"name": "p3_boxes"}, "mark": {"type": "rect", "fill": "#fff"}, "encoding": {"x2": {"field": "t2"}, "y2": {"field": "zth2"}}},
          {"data": {"name": "p3_curves"}, "mark": {"type": "line", "strokeWidth": 1.2, "interpolate": "monotone"}, "encoding": {"detail": {"field": "curve"}}},
          {"data": {"name": "p3_leaders"}, "mark": {"type": "rule", "strokeWidth": 0.6}, "encoding": {"x2": {"field": "t2"}, "y2": {"field": "zth2"}}},
          {"data": {"name": "p3_labels"}, "mark": {"type": "text", "stroke": "#fff", "strokeWidth": 2.5, "strokeJoin": "round"}, "encoding": {"text": {"field": "label"}, "size": {"field": "kind", "type": "nominal", "scale": {"type": "ordinal", "domain": ["main", "sub"], "range": [6.5, 4.5]}, "legend": null}}},
          {"data": {"name": "p3_labels"}, "mark": {"type": "text"}, "encoding": {"text": {"field": "label"}, "size": {"field": "kind", "type": "nominal", "scale": {"type": "ordinal", "domain": ["main", "sub"], "range": [6.5, 4.5]}, "legend": null}}}
        ]
      }
    ]
  },
  {
    "width": 163, "height": 108,
    "view": {"stroke": null},
    "resolve": {"scale": {"x": "independent", "y": "independent"}},
    "layer": [
      {"data": {"values": [{"cell": "Transient Thermal Impedance, 50mm x 50mm 2oz FR4"}]},
       "mark": {"type": "rect", "fill": "transparent", "stroke": "#000", "strokeWidth": 1.4},
       "encoding": {
         "x": {"datum": 0, "type": "quantitative", "scale": {"domain": [0.16507, 0.94497], "nice": false, "zero": false},
               "axis": {"orient": "bottom", "labels": false, "grid": false, "title": "Transient Thermal Impedance", "titleFontWeight": "bold", "titleX": 66, "titleY": 22.7, "titleBaseline": "middle"}},
         "x2": {"datum": 1},
         "y": {"datum": 0, "type": "quantitative", "scale": {"domain": [0.23404, 0.89057], "nice": false, "zero": false}, "axis": null},
         "y2": {"datum": 1}}},
      {
        "encoding": {
          "x": {"field": "t", "type": "quantitative", "scale": {"type": "log", "domain": [0.00004851, 1000], "nice": false},
                "axis": {"orient": "bottom", "grid": true, "values": [0.0001,0.0002,0.0003,0.0004,0.0005,0.0006,0.0007,0.0008,0.0009,0.001,0.002,0.003,0.004,0.005,0.006,0.007,0.008,0.009,0.01,0.02,0.03,0.04,0.05,0.06,0.07,0.08,0.09,0.1,0.2,0.3,0.4,0.5,0.6,0.7,0.8,0.9,1,2,3,4,5,6,7,8,9,10,20,30,40,50,60,70,80,90,100,200,300,400,500,600,700,800,900,1000],
                         "labelExpr": "datum.value == 0.0001 ? '100µ' : datum.value == 0.001 ? '1m' : datum.value == 0.01 ? '10m' : datum.value == 0.1 ? '100m' : datum.value == 1 ? '1' : datum.value == 10 ? '10' : datum.value == 100 ? '100' : datum.value == 1000 ? '1k' : ''",
                         "title": "Pulse Width (s)", "titleX": 65.3, "titleY": 14, "titleBaseline": "middle"}},
          "y": {"field": "zth", "type": "quantitative", "scale": {"domain": [0, 31.7], "nice": false, "zero": false},
                "axis": {"orient": "left", "grid": true, "labelPadding": 0, "values": [0,1.6667,3.3333,5,6.6667,8.3333,10,11.6667,13.3333,15,16.6667,18.3333,20,21.6667,23.3333,25,26.6667,28.3333,30],
                         "labelExpr": "datum.value % 5 == 0 ? '' + datum.value : ''",
                         "title": "Thermal Resistance (°C/W)", "titleX": -21, "titleY": 54, "titleBaseline": "middle"}}
        },
        "layer": [
          {"data": {"values": [{"region": "margin left of the 100µ edge"}]}, "mark": {"type": "rect", "fill": "#fff"},
           "encoding": {"x": {"datum": 0.00004851}, "x2": {"datum": 0.0001}, "y": {"datum": 0}, "y2": {"datum": 31.7}}},
          {"data": {"values": [{"region": "plot frame"}]}, "mark": {"type": "rect", "fill": "transparent", "stroke": "#000", "strokeWidth": 1},
           "encoding": {"x": {"datum": 0.0001}, "x2": {"datum": 1000}, "y": {"datum": 0}, "y2": {"datum": 31.7}}},
          {"data": {"name": "p4_boxes"}, "mark": {"type": "rect", "fill": "#fff"}, "encoding": {"x2": {"field": "t2"}, "y2": {"field": "zth2"}}},
          {"data": {"name": "p4_curves"}, "mark": {"type": "line", "strokeWidth": 1.2, "interpolate": "monotone"}, "encoding": {"detail": {"field": "curve"}}},
          {"data": {"name": "p4_leaders"}, "mark": {"type": "rule", "strokeWidth": 0.6}, "encoding": {"x2": {"field": "t2"}, "y2": {"field": "zth2"}}},
          {"data": {"name": "p4_labels"}, "mark": {"type": "text", "stroke": "#fff", "strokeWidth": 2.5, "strokeJoin": "round"}, "encoding": {"text": {"field": "label"}, "size": {"field": "kind", "type": "nominal", "scale": {"type": "ordinal", "domain": ["main", "sub"], "range": [6.5, 4.5]}, "legend": null}}},
          {"data": {"name": "p4_labels"}, "mark": {"type": "text"}, "encoding": {"text": {"field": "label"}, "size": {"field": "kind", "type": "nominal", "scale": {"type": "ordinal", "domain": ["main", "sub"], "range": [6.5, 4.5]}, "legend": null}}}
        ]
      }
    ]
  },
  {
    "width": 154, "height": 108,
    "resolve": {"scale": {"x": "independent", "y": "independent"}},
    "layer": [
      {"data": {"values": [{"cell": "Pulse Power Dissipation"}]},
       "mark": {"type": "rect", "fill": "transparent", "stroke": "#000", "strokeWidth": 1.4},
       "encoding": {
         "x": {"datum": 0, "type": "quantitative", "scale": {"domain": [0.21957, 0.95465], "nice": false, "zero": false},
               "axis": {"orient": "bottom", "labels": false, "grid": false, "title": "Pulse Power Dissipation", "titleFontWeight": "bold", "titleX": 64.5, "titleY": 24.7, "titleBaseline": "middle"}},
         "x2": {"datum": 1},
         "y": {"datum": 0, "type": "quantitative", "scale": {"domain": [0.25378, 0.90635], "nice": false, "zero": false}, "axis": null},
         "y2": {"datum": 1}}},
      {"data": {"name": "footer"},
       "layer": [
         {"transform": [{"filter": "datum.role == 'issue'"}],
          "mark": {"type": "text", "align": "left", "baseline": "middle", "fontSize": 8, "fontWeight": "bold"},
          "encoding": {"text": {"field": "text"},
            "x": {"datum": 0, "type": "quantitative", "scale": {"domain": [0.21957, 0.95465], "nice": false, "zero": false}, "axis": null},
            "y": {"datum": -0.15105, "type": "quantitative", "scale": {"domain": [0.25378, 0.90635], "nice": false, "zero": false}, "axis": null}}},
         {"transform": [{"filter": "datum.role == 'page'"}],
          "mark": {"type": "text", "align": "center", "baseline": "middle", "fontSize": 9, "fontWeight": "bold"},
          "encoding": {"text": {"field": "text"},
            "x": {"datum": 0.99283, "type": "quantitative", "scale": {"domain": [0.21957, 0.95465], "nice": false, "zero": false}, "axis": null},
            "y": {"datum": -0.29003, "type": "quantitative", "scale": {"domain": [0.25378, 0.90635], "nice": false, "zero": false}, "axis": null}}},
         {"transform": [{"filter": "datum.role == 'logo mark'"}],
          "mark": {"type": "point", "shape": "M-0.3,-1L0.9,-1L0.3,1L-0.9,1Z", "filled": true, "color": "#9a9a9a", "size": 440, "opacity": 1},
          "encoding": {
            "x": {"datum": 1.6129, "type": "quantitative", "scale": {"domain": [0.21957, 0.95465], "nice": false, "zero": false}, "axis": null},
            "y": {"datum": -0.17522, "type": "quantitative", "scale": {"domain": [0.25378, 0.90635], "nice": false, "zero": false}, "axis": null}}},
         {"transform": [{"filter": "datum.role == 'logo'"}],
          "mark": {"type": "text", "align": "right", "baseline": "alphabetic", "fontSize": 22, "fontWeight": "bold", "fontStyle": "italic", "font": "'Liberation Sans Narrow', 'Liberation Sans'"},
          "encoding": {"text": {"field": "text"},
            "x": {"datum": 1.98423, "type": "quantitative", "scale": {"domain": [0.21957, 0.95465], "nice": false, "zero": false}, "axis": null},
            "y": {"datum": -0.25377, "type": "quantitative", "scale": {"domain": [0.25378, 0.90635], "nice": false, "zero": false}, "axis": null}}},
         {"transform": [{"filter": "datum.role == 'tagline'"}],
          "mark": {"type": "text", "align": "right", "baseline": "alphabetic", "fontSize": 7, "fontWeight": "bold"},
          "encoding": {"text": {"field": "text"},
            "x": {"datum": 1.98423, "type": "quantitative", "scale": {"domain": [0.21957, 0.95465], "nice": false, "zero": false}, "axis": null},
            "y": {"datum": -0.32326, "type": "quantitative", "scale": {"domain": [0.25378, 0.90635], "nice": false, "zero": false}, "axis": null}}}
       ]},
      {
        "encoding": {
          "x": {"field": "t", "type": "quantitative", "scale": {"type": "log", "domain": [0.0001, 1000], "nice": false},
                "axis": {"orient": "bottom", "grid": true, "values": [0.0001,0.0002,0.0003,0.0004,0.0005,0.0006,0.0007,0.0008,0.0009,0.001,0.002,0.003,0.004,0.005,0.006,0.007,0.008,0.009,0.01,0.02,0.03,0.04,0.05,0.06,0.07,0.08,0.09,0.1,0.2,0.3,0.4,0.5,0.6,0.7,0.8,0.9,1,2,3,4,5,6,7,8,9,10,20,30,40,50,60,70,80,90,100,200,300,400,500,600,700,800,900,1000],
                         "labelExpr": "datum.value == 0.0001 ? '100µ' : datum.value == 0.001 ? '1m' : datum.value == 0.01 ? '10m' : datum.value == 0.1 ? '100m' : datum.value == 1 ? '1' : datum.value == 10 ? '10' : datum.value == 100 ? '100' : datum.value == 1000 ? '1k' : ''",
                         "title": "Pulse Width (s)", "titleX": 67.8, "titleY": 15.6, "titleBaseline": "middle"}},
          "y": {"field": "pd", "type": "quantitative", "scale": {"type": "log", "domain": [1, 500], "nice": false},
                "axis": {"orient": "left", "grid": true, "values": [1,2,3,4,5,6,7,8,9,10,20,30,40,50,60,70,80,90,100,200,300,400,500],
                         "labelExpr": "datum.value == 1 ? '1' : datum.value == 10 ? '10' : datum.value == 100 ? '100' : ''",
                         "title": "Max Power Dissipation (W)", "titleX": -23.7, "titleY": 54, "titleBaseline": "middle"}}
        },
        "layer": [
          {"data": {"name": "p5_boxes"}, "mark": {"type": "rect", "fill": "#fff"}, "encoding": {"x2": {"field": "t2"}, "y2": {"field": "pd2"}}},
          {"data": {"name": "p5_curves"}, "mark": {"type": "line", "strokeWidth": 1.3, "interpolate": "monotone"}, "encoding": {"detail": {"field": "board"}}},
          {"data": {"name": "p5_leaders"}, "mark": {"type": "rule", "strokeWidth": 0.6}, "encoding": {"x2": {"field": "t2"}, "y2": {"field": "pd2"}}},
          {"data": {"name": "p5_labels"}, "mark": {"type": "text", "stroke": "#fff", "strokeWidth": 2.5, "strokeJoin": "round"}, "encoding": {"text": {"field": "label"}, "size": {"field": "kind", "type": "nominal", "scale": {"type": "ordinal", "domain": ["main", "sub"], "range": [6.5, 4.5]}, "legend": null}}},
          {"data": {"name": "p5_labels"}, "mark": {"type": "text"}, "encoding": {"text": {"field": "label"}, "size": {"field": "kind", "type": "nominal", "scale": {"type": "ordinal", "domain": ["main", "sub"], "range": [6.5, 4.5]}, "legend": null}}}
        ]
      }
    ]
  },
  {
    "width": 155, "height": 108,
    "resolve": {"scale": {"x": "independent", "y": "independent"}},
    "layer": [
      {"data": {"values": [{"cell": "Derating Curve"}]},
       "mark": {"type": "rect", "fill": "transparent", "stroke": "#000", "strokeWidth": 1.4},
       "encoding": {
         "x": {"datum": 0, "type": "quantitative", "scale": {"domain": [0.16507, 0.9067], "nice": false, "zero": false},
               "axis": {"orient": "bottom", "labels": false, "grid": false, "title": "Derating Curve", "titleFontWeight": "bold", "titleX": 63.7, "titleY": 25, "titleBaseline": "middle"}},
         "x2": {"datum": 1},
         "y": {"datum": 0, "type": "quantitative", "scale": {"domain": [0.25378, 0.90635], "nice": false, "zero": false}, "axis": null},
         "y2": {"datum": 1}}},
      {
        "encoding": {
          "x": {"field": "temp", "type": "quantitative", "scale": {"domain": [0, 165], "nice": false, "zero": false},
                "axis": {"orient": "bottom", "grid": true, "values": [0,20,40,60,80,100,120,140,160], "format": "d",
                         "title": "Temperature (°C)", "titleX": 63.5, "titleY": 15.6, "titleBaseline": "middle"}},
          "y": {"field": "pd", "type": "quantitative", "scale": {"domain": [0, 4.5], "nice": false, "zero": false},
                "axis": {"orient": "left", "grid": true, "values": [0,0.5,1,1.5,2,2.5,3,3.5,4,4.5], "format": ".1f",
                         "title": "Max Power Dissipation (W)", "titleX": -23.3, "titleY": 54, "titleBaseline": "middle"}}
        },
        "layer": [
          {"data": {"name": "p6_curves"}, "mark": {"type": "line", "strokeWidth": 1.2}, "encoding": {"detail": {"field": "board"}}},
          {"data": {"name": "p6_leaders"}, "mark": {"type": "rule", "strokeWidth": 0.6}, "encoding": {"x2": {"field": "temp2"}, "y2": {"field": "pd2"}}},
          {"data": {"name": "p6_labels"}, "mark": {"type": "text", "stroke": "#fff", "strokeWidth": 2.5, "strokeJoin": "round"}, "encoding": {"text": {"field": "label"}, "size": {"field": "kind", "type": "nominal", "scale": {"type": "ordinal", "domain": ["main", "sub"], "range": [6.5, 4.5]}, "legend": null}}},
          {"data": {"name": "p6_labels"}, "mark": {"type": "text"}, "encoding": {"text": {"field": "label"}, "size": {"field": "kind", "type": "nominal", "scale": {"type": "ordinal", "domain": ["main", "sub"], "range": [6.5, 4.5]}, "legend": null}}}
        ]
      }
    ]
  }
]
}
